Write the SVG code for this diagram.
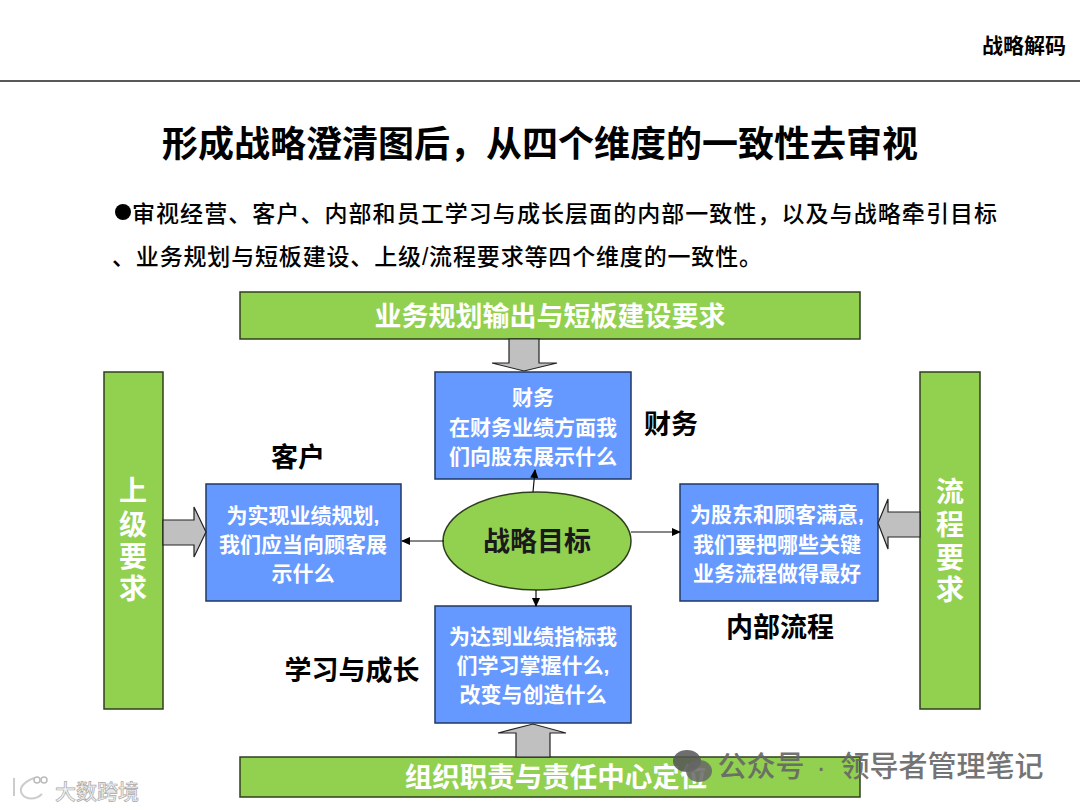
<svg xmlns="http://www.w3.org/2000/svg" width="1080" height="810" viewBox="0 0 1080 810">
<style>
text{font-family:"Liberation Sans","Noto Sans CJK SC",sans-serif;text-anchor:middle;font-weight:700}
.g{fill:#92d050;stroke:#2f3f1e;stroke-width:1.5}
.b{fill:#6699ff;stroke:#1f3864;stroke-width:1.5}
.a{fill:#c0c0c0;stroke:#222;stroke-width:1.2}
.w{fill:#fff}
.t20{font-size:21px}
.t24{font-size:27px}
.k{fill:#000}
.c{stroke:#111;stroke-width:1.2;fill:none;marker-end:url(#h)}
</style>
<defs><marker id="h" markerWidth="9" markerHeight="8" refX="8" refY="4" orient="auto" markerUnits="userSpaceOnUse"><path d="M0 0L9 4L0 8Z" fill="#000"/></marker></defs>
<rect width="1080" height="810" fill="#fff"/>
<line x1="0" y1="81" x2="1080" y2="81" stroke="#222" stroke-width="1.5"/>
<text x="1024" y="53" font-size="21" class="k">战略解码</text>
<text x="540" y="157" font-size="36" class="k">形成战略澄清图后，从四个维度的一致性去审视</text>
<circle cx="123" cy="212" r="8" fill="#000"/>
<text x="132" y="222" font-size="23" style="text-anchor:start;font-weight:500" textLength="865" class="k">审视经营、客户、内部和员工学习与成长层面的内部一致性，以及与战略牵引目标</text>
<text x="112" y="265" font-size="23" style="text-anchor:start;font-weight:500" textLength="650" class="k">、业务规划与短板建设、上级/流程要求等四个维度的一致性。</text>

<g id="top-bar"><rect class="g" x="240" y="292" width="620" height="47"/><text class="w" x="550" y="326" font-size="27">业务规划输出与短板建设要求</text></g>
<g id="bottom-bar"><rect class="g" x="240" y="757" width="620" height="40"/><text class="w" x="556" y="787" font-size="27.5">组织职责与责任中心定位</text></g>
<g id="left-bar"><rect class="g" x="104" y="372" width="59" height="337"/>
<text class="w" font-size="28" x="133"><tspan x="133" y="501">上</tspan><tspan x="133" y="535">级</tspan><tspan x="133" y="567">要</tspan><tspan x="133" y="599">求</tspan></text></g>
<g id="right-bar"><rect class="g" x="920" y="372" width="60" height="337"/>
<text class="w" font-size="28" x="950"><tspan x="950" y="502">流</tspan><tspan x="950" y="535">程</tspan><tspan x="950" y="568">要</tspan><tspan x="950" y="600">求</tspan></text></g>

<g id="finance"><rect class="b" x="435" y="372" width="196" height="107"/>
<text class="w t20"><tspan x="533" y="405">财务</tspan><tspan x="533" y="435">在财务业绩方面我</tspan><tspan x="533" y="464">们向股东展示什么</tspan></text></g>
<g id="customer"><rect class="b" x="206" y="484" width="195" height="117"/>
<text class="w t20"><tspan x="303" y="523">为实现业绩规划,</tspan><tspan x="303" y="552">我们应当向顾客展</tspan><tspan x="303" y="581">示什么</tspan></text></g>
<g id="process"><rect class="b" x="680" y="484" width="198" height="117"/>
<text class="w t20"><tspan x="777" y="522">为股东和顾客满意,</tspan><tspan x="777" y="552">我们要把哪些关键</tspan><tspan x="777" y="581">业务流程做得最好</tspan></text></g>
<g id="learning"><rect class="b" x="435" y="606" width="196" height="117"/>
<text class="w t20"><tspan x="533" y="644">为达到业绩指标我</tspan><tspan x="533" y="673">们学习掌握什么,</tspan><tspan x="533" y="702">改变与创造什么</tspan></text></g>
<g id="goal"><ellipse cx="537" cy="541" rx="94" ry="49" fill="#92d050" stroke="#2f3f1e" stroke-width="1.5"/><text x="537" y="551" font-size="27" fill="#1a1a1a">战略目标</text></g>

<g id="connectors">
<path class="a" d="M509 339H539V363H557L524 371L492 363H509Z"/>
<path class="a" d="M163 520H194V507L206 532L194 557V545H163Z"/>
<path class="a" d="M920 512H888V499L878 523L888 549V537H920Z"/>
<path class="a" d="M516 757V733H498L533 724L566 733H550V757Z"/>
<path class="c" d="M533 492L535 470"/>
<path class="c" d="M444 541H402"/>
<path class="c" d="M631 532H680"/>
<path class="c" d="M536 590V606"/>
</g>

<text class="k t24" x="671" y="434">财务</text>
<text class="k t24" x="298" y="467">客户</text>
<text class="k t24" x="780" y="637">内部流程</text>
<text class="k t24" x="352" y="680">学习与成长</text>

<g id="watermarks">
<ellipse cx="687" cy="761" rx="14" ry="11" fill="#555" opacity=".85"/><ellipse cx="699" cy="771" rx="13" ry="11" fill="#666" opacity=".85"/>
<text x="761" y="777" font-size="29" fill="#666" opacity=".9" style="font-weight:500">公众号</text>
<text x="821" y="777" font-size="29" fill="#666" opacity=".9" style="font-weight:500">·</text>
<text x="942" y="777" font-size="29" fill="#666" opacity=".9" style="font-weight:500">领导者管理笔记</text>
<text x="97" y="799" font-size="21" fill="#f2f2f2" style="font-weight:500;stroke:#aaa;stroke-width:.7">大数跨境</text>
<path d="M14 778V796M34 778C24 782 18 788 22 794C26 800 36 800 42 794" fill="none" stroke="#ccc" stroke-width="2"/>
<circle cx="37" cy="780" r="3" fill="none" stroke="#bbb" stroke-width="1.5"/><circle cx="44" cy="780" r="3" fill="none" stroke="#bbb" stroke-width="1.5"/>
</g>
</svg>
